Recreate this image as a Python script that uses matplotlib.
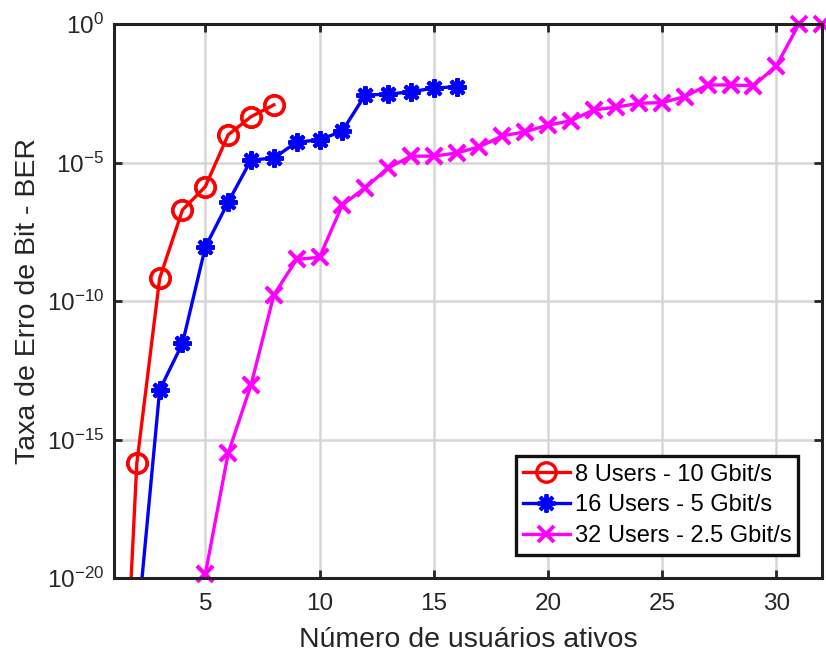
import matplotlib
matplotlib.use("Agg")
import matplotlib.pyplot as plt
import numpy as np

plt.rcParams['font.family'] = ['Liberation Sans', 'DejaVu Sans']
plt.rcParams['mathtext.fontset'] = 'custom'
plt.rcParams['mathtext.rm'] = 'Liberation Sans'
plt.rcParams['mathtext.it'] = 'Liberation Sans'
plt.rcParams['mathtext.default'] = 'regular'

# data
x_8 = [1, 2, 3, 4, 5, 6, 7, 8]
ber_8 = [3e-33, 1.4e-16, 6.6e-10, 1.95e-7, 1.35e-6, 1.0e-4, 4.5e-4, 1.2e-3]

x_16 = [2, 3, 4, 5, 6, 7, 8, 9, 10, 11, 12, 13, 14, 15, 16]
ber_16 = [1e-22, 6.2e-14, 3.0e-12, 8.9e-9, 3.7e-7, 1.23e-5, 1.45e-5, 5.5e-5,
          6.5e-5, 1.38e-4, 2.75e-3, 2.9e-3, 3.6e-3, 4.8e-3, 5.5e-3]

x_32 = list(range(5, 33))
ber_32 = [1.4e-20, 3.2e-16, 9.3e-14, 1.66e-10, 3.2e-9, 3.8e-9, 2.95e-7, 1.23e-6,
          6.3e-6, 1.7e-5, 1.7e-5, 2.2e-5, 3.7e-5, 9.1e-5, 1.29e-4, 2.24e-4,
          3.2e-4, 7.9e-4, 1.0e-3, 1.38e-3, 1.45e-3, 2.4e-3, 6.3e-3, 6.3e-3,
          5.9e-3, 3.0e-2, 1.0, 1.0]

labels = ["8 Users - 10 Gbit/s", "16 Users - 5 Gbit/s", "32 Users - 2.5 Gbit/s"]
yticks = [1e-20, 1e-15, 1e-10, 1e-5, 1e0]
ytick_labels = [r"$10^{-20}$", r"$10^{-15}$", r"$10^{-10}$", r"$10^{-5}$", r"$10^{0}$"]

fig = plt.figure(figsize=(8.26, 6.57), dpi=100)
ax = fig.add_axes([0.138, 0.120, 0.857, 0.8435])

ymin, ymax = 1e-20, 1e0
styles = [
    (x_8, ber_8, "#ff0000", dict(marker="o", ms=14, mfc="none", mew=2.4)),
    (x_16, ber_16, "#0000ff", dict(marker=(8, 2, 0), ms=13, mew=2.8)),
    (x_32, ber_32, "#ff00ff", dict(marker="x", ms=12, mew=2.8)),
]
for (xs, ys, c, mk), lab in zip(styles, labels):
    ax.plot(xs, ys, color=c, lw=2.4, label=lab, **mk)
    # markers are not clipped at the axes edge (MATLAB style)
    xs_in = [a for a, b in zip(xs, ys) if ymin * 0.99 <= b <= ymax * 1.01]
    ys_in = [b for b in ys if ymin * 0.99 <= b <= ymax * 1.01]
    ax.plot(xs_in, ys_in, ls="none", color=c, clip_on=False, **mk)

ax.set_yscale("log")
ax.set_xlim(1, 32)
ax.set_ylim(ymin, ymax)
ax.set_xticks([5, 10, 15, 20, 25, 30])
ax.set_yticks(yticks)
ax.set_yticklabels(ytick_labels)
ax.minorticks_off()

ax.grid(True, color="#d6d6d6", lw=1.8)
ax.set_axisbelow(True)
for s in ax.spines.values():
    s.set_linewidth(2.2)
    s.set_color("#222222")
ax.tick_params(direction="in", length=6, width=2, top=True, right=True,
               labelsize=17.5, colors="#262626")
ax.tick_params(axis="x", pad=11)
ax.tick_params(axis="y", pad=7)

ax.set_xlabel("Número de usuários ativos", fontsize=20.5, color="#262626", labelpad=8)
ax.set_ylabel("Taxa de Erro de Bit - BER", fontsize=20.5, color="#262626", labelpad=4)

leg = ax.legend(loc="lower right", fontsize=17, frameon=True, fancybox=False,
                edgecolor="#111111", framealpha=1, borderpad=0.3,
                handlelength=2.0, handletextpad=0.2, labelspacing=0.38,
                borderaxespad=1.0)
leg.get_frame().set_linewidth(2.4)

fig.savefig("out.png", dpi=100)
